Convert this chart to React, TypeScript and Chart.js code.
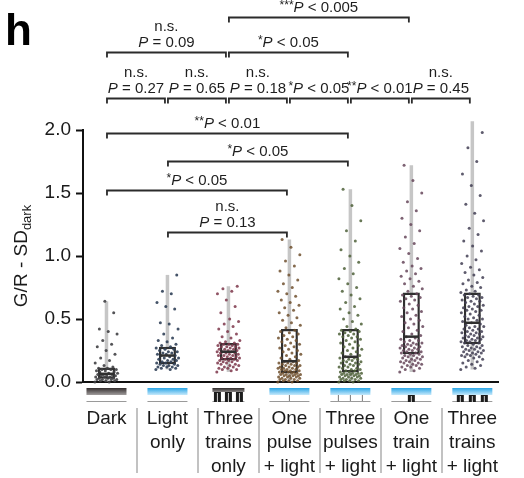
import React, { useEffect, useRef } from 'react';
import { Chart, registerables } from 'chart.js';

Chart.register(...registerables);

const FONT = "'Liberation Sans', Arial, Helvetica, sans-serif";

// Stimulus conditions (x categories), drawn as multi-line tick labels
const categoryLabels = [
  ['Dark'],
  ['Light', 'only'],
  ['Three', 'trains', 'only'],
  ['One', 'pulse', '+ light'],
  ['Three', 'pulses', '+ light'],
  ['One', 'train', '+ light'],
  ['Three', 'trains', '+ light'],
];
const stimulusIcons = ['dark', 'light', 'trains3', 'pulse1', 'pulse3', 'train1', 'trains3light'];

// Box-plot summaries per condition
const lowValues = [0.0, 0.1, 0.08, 0.0, 0.0, 0.08, 0.1];
const q1Values = [0.025, 0.14, 0.17, 0.07, 0.075, 0.22, 0.3];
const medianValues = [0.065, 0.21, 0.24, 0.165, 0.2, 0.36, 0.47];
const q3Values = [0.115, 0.28, 0.31, 0.42, 0.42, 0.71, 0.71];
const highValues = [0.64, 0.85, 0.76, 1.13, 1.53, 1.72, 2.07];

const yTickValues = [0, 0.5, 1, 1.5, 2];

// Individual cells (G/R - SD_dark)
const darkCells = [
  0.0, 0.0, 0.01, 0.01, 0.01, 0.02, 0.02, 0.02, 0.02, 0.03, 0.03,
  0.03, 0.04, 0.04, 0.04, 0.05, 0.05, 0.05, 0.06, 0.06, 0.06, 0.07,
  0.07, 0.08, 0.08, 0.09, 0.09, 0.1, 0.1, 0.1, 0.11, 0.11, 0.12,
  0.13, 0.15, 0.17, 0.19, 0.22, 0.25, 0.28, 0.3, 0.33, 0.38, 0.4, 0.42, 0.55, 0.64,
];
const lightOnlyCells = [
  0.1, 0.1, 0.11, 0.11, 0.12, 0.12, 0.12, 0.13, 0.13, 0.13, 0.14, 0.14,
  0.15, 0.15, 0.16, 0.16, 0.17, 0.17, 0.18, 0.18, 0.19, 0.19, 0.2, 0.21,
  0.21, 0.22, 0.22, 0.23, 0.23, 0.24, 0.24, 0.25, 0.26, 0.26, 0.27, 0.28,
  0.29, 0.3, 0.32, 0.33, 0.35, 0.38, 0.42, 0.46, 0.47, 0.58, 0.6, 0.63, 0.7, 0.72, 0.85,
];
const trainsOnlyCells = [
  0.08, 0.09, 0.1, 0.1, 0.11, 0.11, 0.12, 0.12, 0.13, 0.13, 0.14, 0.14, 0.15, 0.15, 0.16, 0.16, 0.17, 0.17,
  0.17, 0.18, 0.18, 0.19, 0.19, 0.19, 0.2, 0.2, 0.21, 0.21, 0.21, 0.22, 0.22, 0.23, 0.23, 0.23, 0.24, 0.24,
  0.24, 0.25, 0.25, 0.26, 0.26, 0.26, 0.27, 0.27, 0.28, 0.28, 0.28, 0.29, 0.29, 0.3, 0.3, 0.3, 0.31, 0.31,
  0.32, 0.33, 0.35, 0.36, 0.38, 0.4, 0.42, 0.44, 0.46, 0.48, 0.5, 0.55, 0.6, 0.65, 0.7, 0.72, 0.74, 0.76,
];
const onePulseCells = [
  0.0, 0.0, 0.01, 0.01, 0.01, 0.02, 0.02, 0.02, 0.03, 0.03, 0.03, 0.04, 0.04, 0.04, 0.05, 0.05, 0.05, 0.05, 0.06, 0.06, 0.06, 0.06, 0.07, 0.07, 0.07,
  0.08, 0.08, 0.08, 0.09, 0.09, 0.09, 0.1, 0.1, 0.1, 0.11, 0.11, 0.11, 0.12, 0.12, 0.12, 0.13, 0.13, 0.13, 0.14, 0.14, 0.15, 0.15, 0.15, 0.16, 0.16,
  0.17, 0.18, 0.19, 0.2, 0.21, 0.22, 0.23, 0.24, 0.25, 0.26, 0.27, 0.28, 0.29, 0.3, 0.31, 0.32, 0.33, 0.34, 0.35, 0.36, 0.37, 0.38, 0.39, 0.4, 0.41,
  0.43, 0.45, 0.47, 0.49, 0.51, 0.53, 0.55, 0.57, 0.59, 0.61, 0.63, 0.65, 0.68, 0.7, 0.72, 0.75, 0.78, 0.81, 0.85, 0.88, 0.92, 0.96, 1.01, 1.07, 1.13,
];
const threePulsesCells = [
  0.0, 0.0, 0.01, 0.01, 0.01, 0.02, 0.02, 0.02, 0.03, 0.03, 0.03, 0.04, 0.04, 0.04, 0.05, 0.05, 0.05, 0.06, 0.06, 0.06, 0.06, 0.07, 0.07, 0.07, 0.07,
  0.08, 0.08, 0.09, 0.09, 0.1, 0.1, 0.11, 0.11, 0.12, 0.12, 0.13, 0.13, 0.14, 0.14, 0.15, 0.15, 0.16, 0.16, 0.17, 0.17, 0.18, 0.18, 0.19, 0.19, 0.2,
  0.21, 0.22, 0.23, 0.24, 0.25, 0.26, 0.27, 0.28, 0.29, 0.3, 0.31, 0.32, 0.33, 0.34, 0.35, 0.36, 0.36, 0.37, 0.38, 0.38, 0.39, 0.4, 0.4, 0.41, 0.42,
  0.44, 0.46, 0.48, 0.5, 0.53, 0.55, 0.58, 0.6, 0.63, 0.66, 0.69, 0.72, 0.75, 0.78, 0.82, 0.86, 0.9, 0.95, 1.0, 1.05, 1.12, 1.2, 1.28, 1.4, 1.53,
];
const oneTrainCells = [
  0.08, 0.09, 0.1, 0.11, 0.12, 0.12, 0.13, 0.13, 0.14, 0.14, 0.15, 0.15, 0.16, 0.16, 0.17, 0.17, 0.18, 0.18, 0.19, 0.19, 0.2, 0.2, 0.21, 0.21, 0.22,
  0.22, 0.23, 0.23, 0.24, 0.24, 0.25, 0.25, 0.26, 0.26, 0.27, 0.27, 0.28, 0.28, 0.29, 0.29, 0.3, 0.3, 0.31, 0.31, 0.32, 0.33, 0.33, 0.34, 0.35, 0.36,
  0.37, 0.38, 0.4, 0.41, 0.43, 0.44, 0.46, 0.47, 0.49, 0.5, 0.52, 0.53, 0.55, 0.56, 0.58, 0.59, 0.61, 0.62, 0.64, 0.65, 0.66, 0.67, 0.68, 0.69, 0.7,
  0.72, 0.74, 0.76, 0.78, 0.8, 0.82, 0.84, 0.86, 0.88, 0.9, 0.92, 0.95, 0.98, 1.02, 1.06, 1.1, 1.15, 1.2, 1.25, 1.3, 1.36, 1.43, 1.5, 1.6, 1.72,
];
const threeTrainsLightCells = [
  0.1, 0.11, 0.12, 0.13, 0.14, 0.15, 0.16, 0.17, 0.18, 0.19, 0.2, 0.2, 0.21, 0.21, 0.22, 0.22, 0.23, 0.23, 0.24, 0.24, 0.25, 0.25, 0.26, 0.26, 0.27, 0.27, 0.28, 0.28, 0.29, 0.29,
  0.3, 0.31, 0.31, 0.32, 0.32, 0.33, 0.33, 0.34, 0.34, 0.35, 0.35, 0.36, 0.36, 0.37, 0.37, 0.38, 0.38, 0.39, 0.39, 0.4, 0.4, 0.41, 0.42, 0.42, 0.43, 0.44, 0.44, 0.45, 0.46, 0.47,
  0.48, 0.49, 0.5, 0.5, 0.51, 0.52, 0.53, 0.54, 0.55, 0.56, 0.57, 0.57, 0.58, 0.59, 0.6, 0.6, 0.61, 0.62, 0.63, 0.64, 0.64, 0.65, 0.66, 0.67, 0.67, 0.68, 0.69, 0.69, 0.7, 0.71,
  0.72, 0.73, 0.75, 0.76, 0.78, 0.79, 0.81, 0.83, 0.85, 0.87, 0.89, 0.91, 0.94, 0.97, 1.0, 1.04, 1.08, 1.12, 1.17, 1.22, 1.28, 1.34, 1.41, 1.48, 1.56, 1.65, 1.75, 1.86, 1.98, 2.07,
];
const cellValues = [darkCells, lightOnlyCells, trainsOnlyCells, onePulseCells, threePulsesCells, oneTrainCells, threeTrainsLightCells];
const cellColors = [
  'rgba(64,64,68,0.9)',
  'rgba(48,64,88,0.9)',
  'rgba(124,54,74,0.85)',
  'rgba(112,80,46,0.85)',
  'rgba(78,96,56,0.85)',
  'rgba(102,70,90,0.85)',
  'rgba(66,62,84,0.85)',
];

// Pairwise comparisons: condition indices, label lines, bracket height on the y scale
const comparisons = [
  { from: 0, to: 1, lines: ['n.s.', 'P = 0.27'], level: 2.254 },
  { from: 1, to: 2, lines: ['n.s.', 'P = 0.65'], level: 2.254 },
  { from: 2, to: 3, lines: ['n.s.', 'P = 0.18'], level: 2.254 },
  { from: 3, to: 4, lines: ['*P < 0.05'], level: 2.254 },
  { from: 4, to: 5, lines: ['**P < 0.01'], level: 2.254 },
  { from: 5, to: 6, lines: ['n.s.', 'P = 0.45'], level: 2.254 },
  { from: 0, to: 2, lines: ['n.s.', 'P = 0.09'], level: 2.619 },
  { from: 2, to: 4, lines: ['*P < 0.05'], level: 2.619 },
  { from: 2, to: 5, lines: ['***P < 0.005'], level: 2.897 },
  { from: 0, to: 4, lines: ['**P < 0.01'], level: 1.976 },
  { from: 1, to: 4, lines: ['*P < 0.05'], level: 1.754 },
  { from: 0, to: 3, lines: ['*P < 0.05'], level: 1.524 },
  { from: 1, to: 3, lines: ['n.s.', 'P = 0.13'], level: 1.19 },
];

const X_MIN = -0.385;
const X_MAX = 6.421;

// spread of cells around each condition, in category units
const jitter = (j: number) => (((j * 0.6180339887) % 1) - 0.5) * 0.38;

function drawStatText(ctx: CanvasRenderingContext2D, text: string, cx: number, y: number) {
  const m = /^(\**)(P?)(.*)$/.exec(text) as RegExpExecArray;
  const stars = m[1];
  const p = m[2];
  const rest = m[3];
  const base = `15px ${FONT}`;
  const ital = `italic 15px ${FONT}`;
  const sup = `12px ${FONT}`;
  ctx.font = sup;
  const ws = ctx.measureText(stars).width;
  ctx.font = ital;
  const wp = ctx.measureText(p).width;
  ctx.font = base;
  const wr = ctx.measureText(rest).width;
  let x = cx - (ws + wp + wr) / 2;
  ctx.textAlign = 'left';
  ctx.textBaseline = 'alphabetic';
  if (stars) {
    ctx.font = sup;
    ctx.fillText(stars, x, y - 3);
    x += ws;
  }
  if (p) {
    ctx.font = ital;
    ctx.fillText(p, x, y);
    x += wp;
  }
  ctx.font = base;
  ctx.fillText(rest, x, y);
}

function drawBlock(ctx: CanvasRenderingContext2D, cx: number, top: number, bottom: number) {
  ctx.fillStyle = '#1c1c1c';
  ctx.fillRect(cx - 3.5, top, 7, bottom - top);
  ctx.fillStyle = '#d0d0d0';
  ctx.fillRect(cx - 0.5, top + 1, 1, bottom - top - 1);
}

function drawIcon(ctx: CanvasRenderingContext2D, kind: string, cx: number, axisY: number) {
  const barTop = axisY + 6;
  const barBottom = axisY + 13;
  const baseY = axisY + 19;
  const lit = kind !== 'dark' && kind !== 'trains3';
  const half = kind === 'trains3' ? 16 : 20;
  ctx.fillStyle = '#9a9a9a';
  ctx.fillRect(cx - half, baseY, half * 2, 1);
  if (lit) {
    const g = ctx.createLinearGradient(0, barTop, 0, barBottom);
    g.addColorStop(0, '#2aa5e6');
    g.addColorStop(1, '#c6e9fb');
    ctx.fillStyle = g;
    ctx.fillRect(cx - half, barTop, half * 2, barBottom - barTop);
  } else if (kind === 'dark') {
    const g = ctx.createLinearGradient(0, barTop, 0, barBottom);
    g.addColorStop(0, '#332d2d');
    g.addColorStop(1, '#a19d9d');
    ctx.fillStyle = g;
    ctx.fillRect(cx - half, barTop, half * 2, barBottom - barTop);
  } else {
    const g = ctx.createLinearGradient(0, barTop, 0, barTop + 4);
    g.addColorStop(0, '#2e2a2a');
    g.addColorStop(1, '#8a8686');
    ctx.fillStyle = g;
    ctx.fillRect(cx - half, barTop, half * 2, 4);
  }
  if (kind === 'pulse1' || kind === 'pulse3') {
    const offs = kind === 'pulse1' ? [0] : [-12, 0, 12];
    ctx.fillStyle = '#7a7a7a';
    offs.forEach((o) => ctx.fillRect(cx + o - 0.5, barBottom, 1, baseY - barBottom));
  }
  if (kind === 'train1') drawBlock(ctx, cx, barBottom, baseY + 1);
  if (kind === 'trains3light') [-12, 0, 12].forEach((o) => drawBlock(ctx, cx + o, barBottom, baseY + 1));
  if (kind === 'trains3') [-11, 0, 11].forEach((o) => drawBlock(ctx, cx + o, barTop + 4, baseY + 1));
}

const decorations = {
  id: 'decorations',
  afterDraw(chart: any) {
    const { ctx } = chart;
    const x = chart.scales.x;
    const y = chart.scales.y;
    ctx.save();

    // panel letter
    ctx.fillStyle = '#000';
    ctx.font = `bold 44px ${FONT}`;
    ctx.textAlign = 'left';
    ctx.textBaseline = 'alphabetic';
    ctx.fillText('h', 5, 45);

    // y-axis title with subscript
    ctx.save();
    ctx.translate(27, (y.top + y.bottom) / 2);
    ctx.rotate(-Math.PI / 2);
    ctx.fillStyle = '#1a1a1a';
    ctx.font = `19px ${FONT}`;
    const main = 'G/R - SD';
    const wm = ctx.measureText(main).width;
    ctx.font = `13px ${FONT}`;
    const ws = ctx.measureText('dark').width;
    const start = -(wm + ws) / 2;
    ctx.font = `19px ${FONT}`;
    ctx.fillText(main, start, 0);
    ctx.font = `13px ${FONT}`;
    ctx.fillText('dark', start + wm, 4);
    ctx.restore();

    // stimulus icons under the axis
    stimulusIcons.forEach((k, i) => drawIcon(ctx, k, x.getPixelForValue(i), x.top));

    // separators between condition labels
    ctx.strokeStyle = '#c2c2c2';
    ctx.lineWidth = 2;
    for (let i = 1; i < categoryLabels.length; i++) {
      const sx = Math.round((x.getPixelForValue(i - 1) + x.getPixelForValue(i)) / 2);
      ctx.beginPath();
      ctx.moveTo(sx, x.top + 26);
      ctx.lineTo(sx, x.top + 91);
      ctx.stroke();
    }

    // significance brackets
    ctx.strokeStyle = '#2b2b2b';
    ctx.fillStyle = '#1e1e1e';
    ctx.lineWidth = 1.8;
    comparisons.forEach((c) => {
      const x1 = x.getPixelForValue(c.from) + 0.5;
      const x2 = x.getPixelForValue(c.to) - 2.5;
      const by = Math.round(y.getPixelForValue(c.level)) + 0.5;
      ctx.beginPath();
      ctx.moveTo(x1, by + 5);
      ctx.lineTo(x1, by);
      ctx.lineTo(x2, by);
      ctx.lineTo(x2, by + 5);
      ctx.stroke();
      const cx = (x1 + x2) / 2;
      const n = c.lines.length;
      c.lines.forEach((line, k) => {
        drawStatText(ctx, line, cx, by - 6 - (n - 1 - k) * 16);
      });
    });

    ctx.restore();
  },
};

export default function App() {
  const canvasRef = useRef<HTMLCanvasElement | null>(null);

  useEffect(() => {
    const canvas = canvasRef.current;
    if (!canvas) return;

    const datasets: any[] = [];
    datasets.push({
      type: 'bar',
      data: lowValues.map((v, i) => ({ x: i, y: [v, highValues[i]] })),
      backgroundColor: '#c6c6c6',
      borderWidth: 0,
      grouped: false,
      maxBarThickness: 3.5,
      clip: false,
      order: 5,
    });
    datasets.push({
      type: 'bar',
      data: q1Values.map((v, i) => ({ x: i, y: [v, q3Values[i]] })),
      backgroundColor: '#ffffff',
      borderColor: '#2f2f2f',
      borderWidth: 2.5,
      borderSkipped: false,
      grouped: false,
      maxBarThickness: 17,
      clip: false,
      order: 4,
    });
    cellValues.forEach((vals, i) => {
      datasets.push({
        type: 'scatter',
        data: vals.map((v, j) => ({ x: i + jitter(j), y: v })),
        backgroundColor: cellColors[i],
        borderWidth: 0,
        pointRadius: 1.5,
        clip: false,
        order: 3,
      });
    });
    datasets.push({
      type: 'scatter',
      data: medianValues.map((v, i) => ({ x: i, y: v })),
      pointStyle: 'line',
      pointRadius: 7.5,
      borderColor: '#2f2f2f',
      borderWidth: 2.5,
      clip: false,
      order: 1,
    });

    const tickFont = { family: FONT, size: 19 };
    const chart = new Chart(canvas, {
      type: 'scatter',
      data: { datasets },
      options: {
        animation: false,
        responsive: false,
        events: [],
        layout: { padding: { top: 130, right: 17, left: 0, bottom: 0 } },
        plugins: { legend: { display: false }, tooltip: { enabled: false } },
        scales: {
          x: {
            type: 'linear',
            offset: false,
            min: X_MIN,
            max: X_MAX,
            afterFit: (s: any) => {
              s.height = 96;
            },
            afterBuildTicks: (s: any) => {
              s.ticks = categoryLabels.map((_, i) => ({ value: i }));
            },
            grid: { display: false, drawTicks: false, offset: false },
            border: { display: true, color: '#111', width: 2 },
            ticks: {
              autoSkip: false,
              maxRotation: 0,
              minRotation: 0,
              padding: 25,
              color: '#1a1a1a',
              font: { ...tickFont, lineHeight: 1.25 },
              callback: (v: any) => categoryLabels[v] ?? '',
            },
          },
          y: {
            min: 0,
            max: 2,
            afterFit: (s: any) => {
              s.width = 83;
            },
            afterBuildTicks: (s: any) => {
              s.ticks = yTickValues.map((v) => ({ value: v }));
            },
            grid: { drawOnChartArea: false, tickLength: 7, tickWidth: 2, tickColor: '#111' },
            border: { color: '#111', width: 2 },
            ticks: {
              padding: 5,
              color: '#1a1a1a',
              font: tickFont,
              callback: (v: any) => Number(v).toFixed(1),
            },
          },
        },
      } as any,
      plugins: [decorations],
    });

    return () => chart.destroy();
  }, []);

  return (
    <div style={{ position: 'absolute', left: 0, top: 0, width: 524, height: 478, background: '#fff' }}>
      <canvas ref={canvasRef} width={524} height={478} style={{ display: 'block' }} />
    </div>
  );
}
